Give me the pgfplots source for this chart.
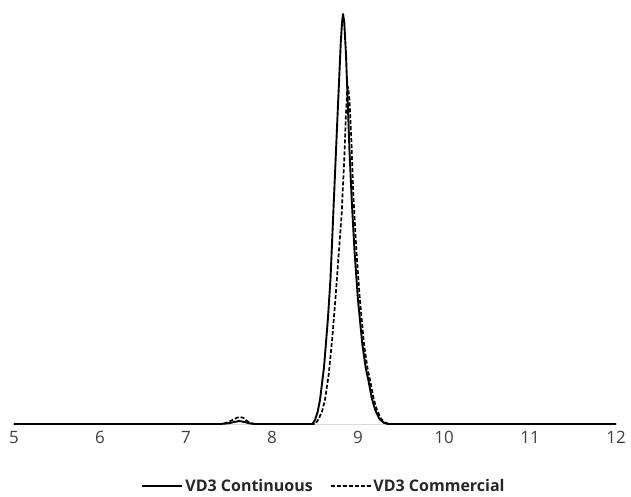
\documentclass[border=0pt]{standalone}
\usepackage{fontspec}
\setmainfont{Open Sans}
\usepackage{pgfplots}
\pgfplotsset{compat=1.18}
\usetikzlibrary{calc}
\definecolor{ticktxt}{HTML}{404040}
\definecolor{axgray}{HTML}{D9D9D9}
\begin{document}
\begin{tikzpicture}
\begin{axis}[name=ax,
  width=602pt, height=424pt, scale only axis,
  xmin=5, xmax=12, ymin=0, ymax=424,
  axis y line=none, axis x line*=bottom,
  x axis line style={draw=axgray, line width=1pt, -},
  xtick={5,6,...,12}, major tick length=0pt,
  /pgf/number format/assume math mode=true,
  xticklabel style={font=\fontsize{17}{19}\selectfont, text=ticktxt, yshift=-3.5pt},
  clip=false,
  legend columns=2,
  legend style={draw=none, fill=none, at={(axis description cs:0.515,-0.146)}, anchor=center,
    font=\fontsize{16}{18}\selectfont\bfseries, text=black!85,
    /tikz/every even column/.append style={column sep=15pt}},
  legend image code/.code={\draw[#1] (0pt,0pt) -- (40pt,0pt);},
]
\addplot[black, line width=1.9pt, line join=round] coordinates {
(5,0) (7.40,0) (7.50,0.8) (7.56,2) (7.62,3) (7.68,2) (7.74,0.6) (7.80,0)
(8.47,0) (8.50,4) (8.53,12) (8.558,24) (8.605,57) (8.65,105) (8.68,145)
(8.71,205) (8.74,265) (8.77,324) (8.80,382) (8.815,402) (8.826,410)
(8.84,402) (8.86,370) (8.88,324) (8.90,275) (8.927,224) (8.96,172)
(9.00,124) (9.05,80) (9.09,56) (9.12,44) (9.16,26) (9.20,14) (9.25,5)
(9.30,1.2) (9.35,0) (12,0)
};
\addlegendentry{VD3 Continuous}
\addplot[black, line width=1.7pt, dash pattern=on 4pt off 2pt, line join=round] coordinates {
(5,0) (7.42,0) (7.48,1.5) (7.54,4) (7.60,6.5) (7.63,7) (7.67,6) (7.71,3)
(7.75,1) (7.80,0) (8.50,0) (8.535,4) (8.58,12) (8.616,24) (8.66,50)
(8.70,85) (8.74,128) (8.78,175) (8.81,210) (8.84,265) (8.86,310)
(8.875,334) (8.885,337) (8.90,325) (8.925,280) (8.945,230) (8.98,175)
(9.02,126) (9.07,80) (9.11,56) (9.14,44) (9.18,26) (9.22,14) (9.27,5)
(9.32,1.2) (9.37,0) (12,0)
};
\addlegendentry{VD3 Commercial}
\end{axis}
\path ($(ax.south west)+(-14pt,-70pt)$) rectangle ($(ax.north east)+(15pt,0pt)$);
\end{tikzpicture}
\end{document}
